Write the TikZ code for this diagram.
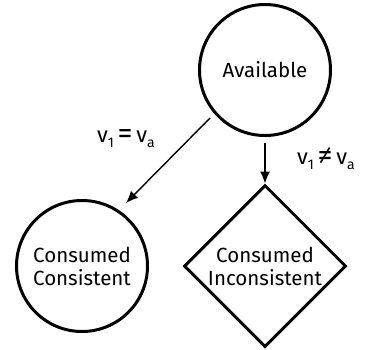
\documentclass[tikz,border=0pt]{standalone}
\usepackage{fontspec}
\setmainfont{Fira Sans}
\usetikzlibrary{shapes.geometric,arrows.meta}
\newcommand{\sbs}[1]{\raisebox{-0.5ex}{\fontsize{14}{14}\selectfont #1}}
\newcommand{\rel}[1]{\,\raisebox{-0.15ex}{\fontsize{30}{30}\selectfont #1}\,}
\begin{document}
\begin{tikzpicture}[x=1pt,y=-1pt,
  every node/.style={font=\fontsize{20.5}{23}\selectfont},
  stateC/.style={circle,draw,line width=3pt,minimum size=131pt,inner sep=0pt,align=center},
  stateD/.style={diamond,draw,line width=3pt,minimum size=162pt,inner sep=0pt,align=center},
  conn/.style={line width=1.4pt,-{Latex[length=12pt,width=10pt]}},
  lbl/.style={inner sep=0pt,font=\fontsize{22}{24}\selectfont}]
\useasboundingbox (0,0) rectangle (369,349);
\node[stateC] (avail) at (265,70) {Available};
\node[stateC] (cons) at (82,266) {Consumed\\Consistent};
\node[stateD] (incons) at (265,266) {Consumed\\Inconsistent};
\coordinate (s1) at (210,118);
\coordinate (e1) at (126,203);
\coordinate (s2) at (265,143);
\draw[conn] (s1) -- (e1);
\draw[conn] (s2) -- (incons.north);
\node[lbl] (l1) at (126,139) {v\sbs{1}\rel{=}v\sbs{a}};
\node[lbl] (l2) at (326,159) {v\sbs{1}\rel{≠}v\sbs{a}};
\end{tikzpicture}
\end{document}
